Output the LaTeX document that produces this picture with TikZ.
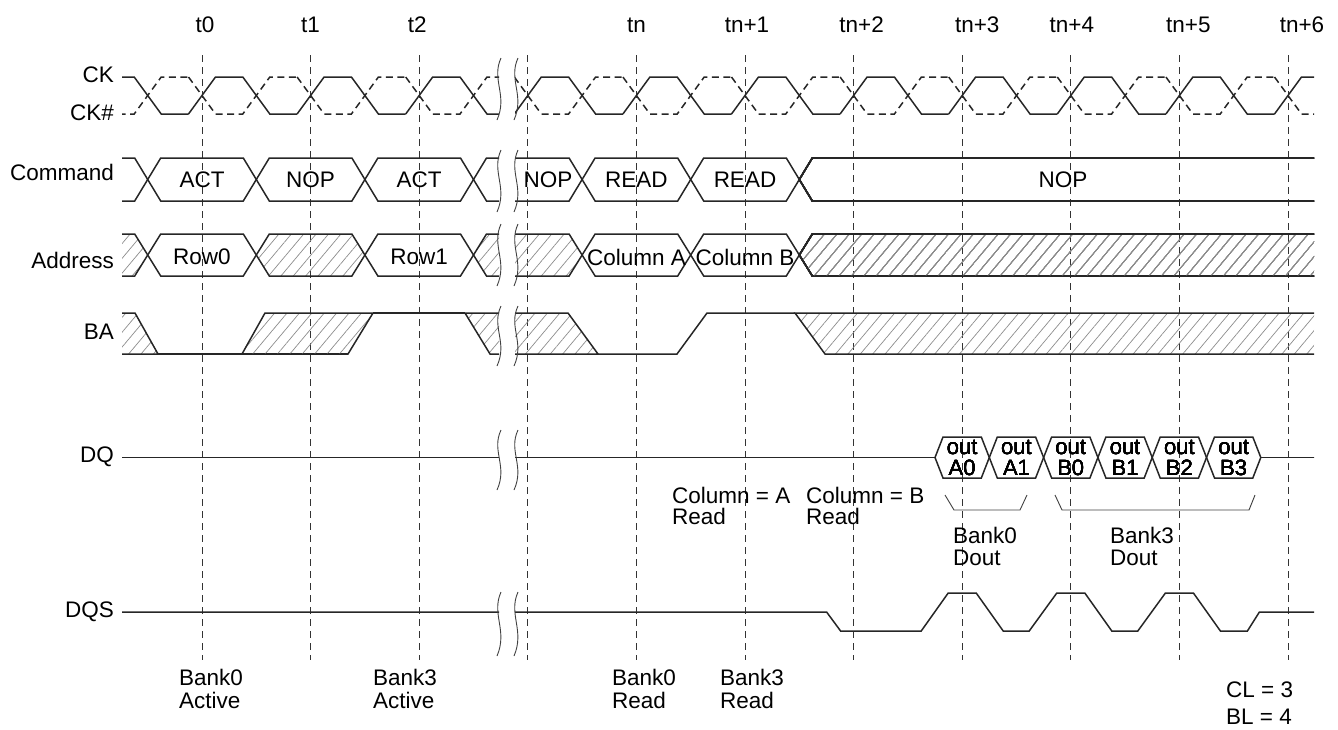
\documentclass[tikz,border=0pt]{standalone}
\usepackage{fontspec}
\setmainfont{Liberation Sans}
\usetikzlibrary{patterns.meta}

\tikzset{
	sig/.style={line width=1.5pt, black!85, line join=miter},
	ckn/.style={line width=1.5pt, black!85, dash pattern=on 7pt off 4.5pt},
	tline/.style={line width=0.9pt, black!80, dash pattern=on 7pt off 5pt},
	hatch/.style={pattern={Lines[angle=50,distance=9.5pt,line width=0.7pt]}, pattern color=black!45},
	plain/.style={},
	brk/.style={line width=0.9pt, black!75},
	lbl/.style={inner sep=0pt, font=\fontsize{22.5}{23}\selectfont},
	txt/.style={lbl, anchor=west, align=left},
}

% bus cell: left crossing, top, bottom, style
\newcommand{\buscell}[4]{
	\draw[sig,#4] (#1,{(#2+#3)/2}) -- (#1+13,#2) -- (#1+95.6,#2) -- (#1+108.6,{(#2+#3)/2}) -- (#1+95.6,#3) -- (#1+13,#3) -- cycle;
}
% data cell on DQ
\newcommand{\dqcell}[1]{
	\draw[sig] (#1,457.5) -- (#1+8,437) -- (#1+46.3,437) -- (#1+54.3,457.5) -- (#1+46.3,478) -- (#1+8,478) -- cycle;
}

\begin{document}
\begin{tikzpicture}[x=1pt,y=-1pt]
	\useasboundingbox (0,0) rectangle (1338,729);

	\foreach \k in {0,...,10}
		\draw[tline] (202+\k*108.6,55) -- (202+\k*108.6,660);
	\foreach \k/\tname/\dx in {0/t0/3,1/t1/0,2/t2/-2,4/tn/0,5/tn+1/2,6/tn+2/8,7/tn+3/15,8/tn+4/1,9/tn+5/9,10/tn+6/14}
		\node[lbl] (t\k) at (202+\k*108.6+\dx,25) {\tname};

	\node[lbl,anchor=east] (ck) at (114,75) {CK};
	\node[lbl,anchor=east] (ckb) at (114,113) {CK\#};
	\node[lbl,anchor=east] (cmd) at (114,172) {Command};
	\node[lbl,anchor=east] (addr) at (114,260) {Address};
	\node[lbl,anchor=east] (ba) at (114,332) {BA};
	\node[lbl,anchor=east] (dq) at (114,457) {DQ};
	\node[lbl,anchor=east] (dqs) at (114,612) {DQS};

	\begin{scope}
		\clip (122,0) rectangle (499,729) (515,0) rectangle (1314,729);
		% clocks
		\foreach \k in {-1,...,10} {
			\pgfmathsetmacro\T{202+\k*108.6}
			\draw[sig] (\T-13.5,114) -- (\T+13.5,77) -- (\T+40.8,77) -- (\T+67.8,114) -- (\T+95.1,114);
			\draw[ckn] (\T-13.5,77) -- (\T+13.5,114) -- (\T+40.8,114) -- (\T+67.8,77) -- (\T+95.1,77);
		}
		% command
		\foreach \k in {-1,...,5}
			\buscell{147.7+\k*108.6}{158}{201}{plain}
		\draw[sig] (1320,158) -- (812.3,158) -- (799.3,179.5) -- (812.3,201) -- (1320,201);
		% address
		\foreach \k/\hs in {-1/hatch,0/plain,1/hatch,2/plain,3/hatch,4/plain,5/plain}
			\buscell{147.7+\k*108.6}{234}{276}{\hs}
		\draw[sig,hatch] (799.3,255) -- (812.3,234) -- (1330,234) -- (1330,276) -- (812.3,276) -- cycle;
		% BA
		\draw[sig,hatch] (120,313) -- (135,313) -- (158,354) -- (120,354) -- cycle;
		\draw[sig] (158,354) -- (348,354);
		\draw[sig,hatch] (242,354) -- (265,313) -- (373,313) -- (348,354) -- cycle;
		\draw[sig] (373,313) -- (465,313);
		\draw[sig,hatch] (465,313) -- (505,313) -- (505,354) -- (490,354) -- cycle;
		\draw[sig,hatch] (505,313) -- (568,313) -- (598,354) -- (505,354) -- cycle;
		\draw[sig] (598,354) -- (677,354) -- (707,313) -- (795,313);
		\draw[sig,hatch] (795,313) -- (1330,313) -- (1330,354) -- (825,354) -- cycle;
		% DQ, DQS
		\draw[sig] (120,457.5) -- (935,457.5) (1260.8,457.5) -- (1330,457.5);
		\draw[sig] (120,612) -- (826.6,612) -- (840.6,631) -- (921.2,631) -- (948.2,593) -- (976.2,593) -- (1003.2,631) -- (1029.2,631) -- (1056.8,593) -- (1084.8,593) -- (1111.8,631) -- (1137.8,631) -- (1165.4,593) -- (1193.4,593) -- (1220.4,631) -- (1247.4,631) -- (1259.4,612) -- (1330,612);
	\end{scope}

	\foreach \j in {0,...,5}
		\dqcell{935+\j*54.3}
	\foreach \j/\dname in {0/A0,1/A1,2/B0,3/B1,4/B2,5/B3}
		\node[lbl,font=\fontsize{22}{21.5}\selectfont,align=center] (out\dname) at (962.15+\j*54.3,458) {out\\\dname};

	\node[lbl] (act0) at (202,180) {ACT};
	\node[lbl] (nop1) at (310.6,180) {NOP};
	\node[lbl] (act2) at (419.2,180) {ACT};
	\node[lbl] (nop3) at (548,180) {NOP};
	\node[lbl] (read4) at (636.4,180) {READ};
	\node[lbl] (read5) at (745,180) {READ};
	\node[lbl] (nop6) at (1063,180) {NOP};
	\node[lbl] (row0) at (202,257) {Row0};
	\node[lbl] (row1) at (419.2,257) {Row1};
	\node[lbl] (colA) at (636.4,257) {Column A};
	\node[lbl] (colB) at (745,257) {Column B};

	\foreach \y/\h in {58/62,150/62,224/62,306/60,430/60,592/64}
		\foreach \x in {499,516}
			\draw[brk] (\x+2,\y) .. controls (\x-8,\y+0.35*\h) and (\x+9,\y+0.6*\h) .. (\x-2,\y+\h);

	\draw[brk] (945,495) -- (954,510) -- (1020,510) -- (1027,495);
	\draw[brk] (1055,495) -- (1062,510) -- (1249,510) -- (1255,495);

	\node[txt,font=\fontsize{22.5}{21}\selectfont] (rdA) at (672,506) {Column = A\\Read};
	\node[txt,font=\fontsize{22.5}{21}\selectfont] (rdB) at (806,506) {Column = B\\Read};
	\node[txt,font=\fontsize{22.5}{22}\selectfont] (dout0) at (953,546) {Bank0\\Dout};
	\node[txt,font=\fontsize{22.5}{22}\selectfont] (dout3) at (1110,546) {Bank3\\Dout};
	\node[txt] (active0) at (179,688.5) {Bank0\\Active};
	\node[txt] (active3) at (373,688.5) {Bank3\\Active};
	\node[txt] (read0) at (612,688.5) {Bank0\\Read};
	\node[txt] (read3) at (720,688.5) {Bank3\\Read};
	\node[txt,font=\fontsize{22.5}{27}\selectfont] (clbl) at (1226,703.5) {CL = 3\\BL = 4};
\end{tikzpicture}
\end{document}
